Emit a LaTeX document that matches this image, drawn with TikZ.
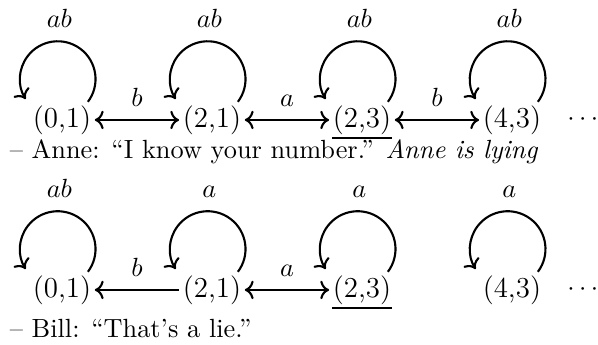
\documentclass[tikz,border=0pt]{standalone}
\usepackage{amsmath, amssymb}
\usetikzlibrary{arrows.meta, positioning, calc}

\begin{document}
\begin{tikzpicture}[thick,
    world/.style={inner sep=1pt, font=\fontsize{11}{13}\selectfont},
    lbl/.style={above=1.5pt}]
    \useasboundingbox (0,0) rectangle (7.99,4.609);

    % Before Anne speaks
    \node[world] (p1) at (0.828,3.006) {(0,1)};
    \node[world] (q1) at (2.832,3.006) {(2,1)};
    \node[world] (r1) at (4.836,3.006) {(2,3)};
    \node[world] (s1) at (6.840,3.006) {(4,3)};
    \node (d1) at (7.816,3.006) {$\cdots$};
    \draw[line width=1pt] ($(r1.south west)+(1pt,0)$) -- ($(r1.south east)+(-1pt,0)$);

    \draw[->] (p1.35) arc[start angle=-37, end angle=212, radius=0.505cm] node[pos=0.5, lbl] {$ab$};
    \draw[->] (q1.35) arc[start angle=-37, end angle=212, radius=0.505cm] node[pos=0.5, lbl] {$ab$};
    \draw[->] (r1.35) arc[start angle=-37, end angle=212, radius=0.505cm] node[pos=0.5, lbl] {$ab$};
    \draw[->] (s1.35) arc[start angle=-37, end angle=212, radius=0.505cm] node[pos=0.5, lbl] {$ab$};
    \draw[<->] (p1) -- node[lbl] {$b$} (q1);
    \draw[<->] (q1) -- node[lbl] {$a$} (r1);
    \draw[<->] (r1) -- node[lbl] {$b$} (s1);

    \node[anchor=base west] (t1) at (0,2.49) {-- Anne: ``I know your number.'' \emph{Anne is lying}};

    % After Anne speaks
    \node[world] (p2) at (0.828,0.735) {(0,1)};
    \node[world] (q2) at (2.832,0.735) {(2,1)};
    \node[world] (r2) at (4.836,0.735) {(2,3)};
    \node[world] (s2) at (6.840,0.735) {(4,3)};
    \node (d2) at (7.816,0.735) {$\cdots$};
    \draw[line width=1pt] ($(r2.south west)+(1pt,0)$) -- ($(r2.south east)+(-1pt,0)$);

    \draw[->] (p2.35) arc[start angle=-37, end angle=212, radius=0.505cm] node[pos=0.5, lbl] {$ab$};
    \draw[->] (q2.35) arc[start angle=-37, end angle=212, radius=0.505cm] node[pos=0.5, lbl] {$a$};
    \draw[->] (r2.35) arc[start angle=-37, end angle=212, radius=0.505cm] node[pos=0.5, lbl] {$a$};
    \draw[->] (s2.35) arc[start angle=-37, end angle=212, radius=0.505cm] node[pos=0.5, lbl] {$a$};
    \draw[<-] (p2) -- node[lbl] {$b$} (q2);
    \draw[<->] (q2) -- node[lbl] {$a$} (r2);

    \node[anchor=base west] (t2) at (0,0.094) {-- Bill: ``That's a lie.''};
\end{tikzpicture}
\end{document}
